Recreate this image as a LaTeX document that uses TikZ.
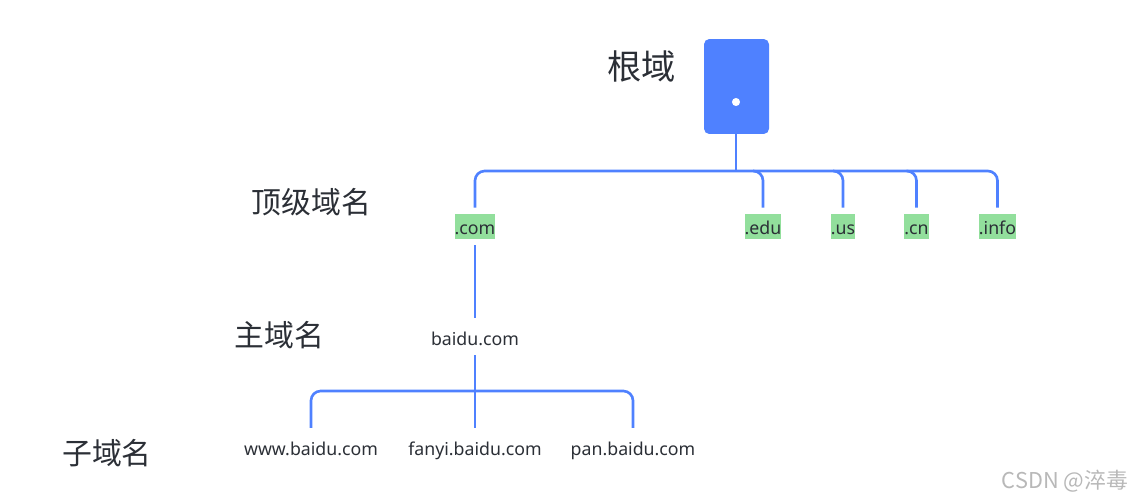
\documentclass[tikz,border=0pt]{standalone}
\usepackage{fontspec}
\setmainfont{Noto Sans}
\newfontfamily\cjk{Noto Sans CJK SC}
\definecolor{linkblue}{HTML}{4F81FF}
\definecolor{tldgreen}{HTML}{92DF9C}
\definecolor{inkgray}{HTML}{2B2F36}
\tikzset{
    dname/.style={text=inkgray, font=\fontsize{10.1}{12}\selectfont, inner sep=0pt, text height=7.5pt, text depth=2.2pt},
    tld/.style={dname, fill=tldgreen, text height=11.4pt, text depth=2.8pt},
    levelname/.style={text=inkgray, font=\cjk\fontsize{17}{20}\selectfont, inner sep=0pt},
    link/.style={draw=linkblue, line width=1.5pt, rounded corners=5.5pt},
}
\begin{document}
\begin{tikzpicture}[x=0.02cm, y=-0.02cm]
    \useasboundingbox (0,0) rectangle (1132,501);
    % root box
    \node[fill=linkblue, rounded corners=3pt, minimum width=1.3cm, minimum height=1.9cm, inner sep=0pt] (root) at (736.5,86.5) {};
    \node[fill=white, circle, minimum size=4.6pt, inner sep=0pt] (rootdot) at (736,102) {};
    \node[levelname, font=\cjk\fontsize{19.5}{23}\selectfont] (rootlabel) at (641.5,66) {根域};
    % left column
    \node[levelname] (toplabel) at (311.5,202) {顶级域名};
    \node[levelname] (mainlabel) at (279.5,335) {主域名};
    \node[levelname] (sublabel) at (107,453) {子域名};
    % top level
    \node[tld] (com) at (475,226.5) {.com};
    \node[tld] (edu) at (763,226.5) {.edu};
    \node[tld] (us) at (843,226.5) {.us};
    \node[tld] (cn) at (916.5,226.5) {.cn};
    \node[tld] (info) at (997.5,226.5) {.info};
    % second and third level
    \node[dname] (baidu) at (475,340.5) {baidu.com};
    \node[dname] (www) at (311,450.5) {www.baidu.com};
    \node[dname] (fanyi) at (475,450.5) {fanyi.baidu.com};
    \node[dname] (pan) at (633,450.5) {pan.baidu.com};
    % branch points
    \coordinate (tophub) at (736,171);
    \coordinate (subhub) at (475,391);
    % connectors
    \draw[link] (root.south -| tophub) -- (tophub);
    \draw[link, shorten <=3.4pt, shorten >=3.4pt] (com.north) |- (tophub) -| (info.north);
    \foreach \leaf in {edu,us,cn}
        \draw[link, shorten >=3.4pt] ([xshift=-0.2cm]\leaf.north |- tophub) -| (\leaf.north);
    \draw[link, shorten <=3.4pt, shorten >=7.9pt] (com.south) -- (baidu.north);
    \draw[link, shorten <=3.4pt, shorten >=7.9pt] (baidu.south) -- (fanyi.north);
    \draw[link, shorten <=7.9pt, shorten >=7.9pt] (www.north) |- (subhub) -| (pan.north);
    % watermark
    \node[text=black!28, font=\cjk\fontsize{12.4}{14}\selectfont, inner sep=0pt] (mark) at (1065,481) {CSDN @淬毒};
\end{tikzpicture}
\end{document}
